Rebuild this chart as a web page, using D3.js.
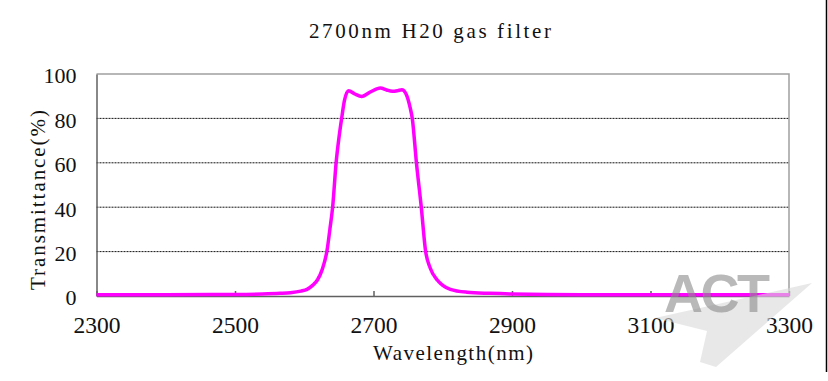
<!DOCTYPE html>
<meta charset="utf-8" />
<head>
  <!-- Load d3.js -->
  <script src="https://d3js.org/d3.v7.min.js"></script>
  <style>
    body {
      margin: 0;
      background: #ffffff;
    }
  </style>
</head>
<body>
  <div id="my_data"></div>
</body>
<script>
  // data
  var wavelength = [2300, 2400, 2500, 2540, 2565, 2580, 2595, 2604, 2612, 2619, 2626, 2633, 2637, 2641, 2646, 2650, 2654, 2658, 2664, 2673, 2683, 2696, 2710, 2719, 2727, 2735, 2741, 2747, 2753, 2756, 2762, 2769, 2775, 2782, 2792, 2800, 2811, 2835, 2868, 2900, 3000, 3100, 3300];
  var transmittance = [0.6, 0.6, 0.7, 0.9, 1.2, 1.5, 2.2, 3.0, 4.8, 7.2, 12, 20.7, 30, 40, 60, 71, 80, 88, 92.5, 91, 89.9, 92, 93.7, 92.8, 92.2, 92.5, 92.9, 91, 84.7, 80, 60, 40, 20.7, 12.5, 7.2, 4.8, 3, 1.7, 1.2, 0.9, 0.6, 0.6, 0.6];
  var xTicks = [2300, 2500, 2700, 2900, 3100, 3300];
  var yTicks = [0, 20, 40, 60, 80, 100];
  var gridTicks = [20, 40, 60, 80];

  var data = wavelength.map(function (w, i) {
    return { w: w, t: transmittance[i] };
  });

  var serif = "'Liberation Serif', 'DejaVu Serif', serif";

  // set the dimensions and margins of the graph
  var W = 828,
    H = 381;
  var margin = { top: 74, right: 39, bottom: 85, left: 96.5 },
    width = W - margin.left - margin.right,
    height = H - margin.top - margin.bottom;

  var root = d3
    .select("#my_data")
    .append("svg")
    .attr("width", W)
    .attr("height", H);

  root.append("rect").attr("width", W).attr("height", H).attr("fill", "#fff");

  var svg = root
    .append("g")
    .attr("transform", "translate(" + margin.left + "," + margin.top + ")");

  var x = d3.scaleLinear().domain([2300, 3300]).range([0, width]);
  var y = d3.scaleLinear().domain([0, 100]).range([height, 0]);

  // dotted grid lines
  svg
    .selectAll(".grid")
    .data(gridTicks)
    .enter()
    .append("line")
    .attr("x1", 0)
    .attr("x2", width)
    .attr("y1", function (d) { return y(d); })
    .attr("y2", function (d) { return y(d); })
    .attr("stroke", "#111")
    .attr("stroke-width", 1)
    .attr("stroke-dasharray", "2,1");

  // top and right border
  svg
    .append("path")
    .attr("d", "M0,0H" + width + "V" + height)
    .attr("fill", "none")
    .attr("stroke", "#a0a0a0")
    .attr("stroke-width", 1.5);

  // X axis, ticks point up
  var xAxis = svg
    .append("g")
    .attr("transform", "translate(0," + height + ")")
    .call(
      d3.axisBottom(x)
        .tickValues(xTicks)
        .tickFormat(d3.format("d"))
        .tickSizeInner(-5)
        .tickSizeOuter(0)
        .tickPadding(20)
    );
  xAxis.select(".domain").attr("stroke", "#606060").attr("stroke-width", 1.5);
  xAxis.selectAll(".tick line").attr("stroke", "#606060").attr("stroke-width", 1.5);
  xAxis
    .selectAll(".tick text")
    .style("font-family", serif)
    .style("font-size", "23.5px")
    .attr("fill", "#111");

  // Y axis
  var yAxis = svg
    .append("g")
    .call(d3.axisLeft(y).tickValues(yTicks).tickFormat(d3.format("d")).tickSize(0).tickPadding(20));
  yAxis.select(".domain").attr("stroke", "#606060").attr("stroke-width", 1.5);
  yAxis
    .selectAll(".tick text")
    .attr("dy", "0.4em")
    .style("font-family", serif)
    .style("font-size", "22px")
    .attr("fill", "#111");

  // watermark plane
  root
    .append("polygon")
    .attr("points", "655,318 812,283 716,367 700,362 707,331")
    .attr("fill", "#d8d8d8")
    .attr("opacity", 0.6);

  // the curve
  svg
    .append("path")
    .datum(data)
    .attr(
      "d",
      d3
        .line()
        .curve(d3.curveMonotoneX)
        .x(function (d) { return x(d.w); })
        .y(function (d) { return y(d.t); })
    )
    .attr("fill", "none")
    .attr("stroke", "#ff00ff")
    .attr("stroke-width", 3.5)
    .attr("stroke-linejoin", "round");

  // watermark text
  root
    .append("text")
    .attr("x", 664)
    .attr("y", 312)
    .style("font-family", "'Liberation Sans', Arial, sans-serif")
    .style("font-weight", "bold")
    .style("font-size", "54px")
    .attr("textLength", 106)
    .attr("fill", "#8c8c8c")
    .attr("opacity", 0.6)
    .text("ACT");

  // helper for the wide spaced labels
  function label(txt, len) {
    return root
      .append("text")
      .style("font-family", serif)
      .style("font-size", "21px")
      .attr("fill", "#111")
      .attr("text-anchor", "middle")
      .attr("textLength", len)
      .attr("lengthAdjust", "spacing")
      .text(txt);
  }

  // title
  label("2700nm H20 gas filter", 242).attr("x", 430).attr("y", 38);

  // X Axis Label
  label("Wavelength(nm)", 160).attr("x", 453).attr("y", 360);

  // Y Axis Label
  label("Transmittance(%)", 180).attr("transform", "translate(45,200) rotate(-90)");

  // frame edge on the right
  root
    .append("line")
    .attr("x1", 826.5)
    .attr("x2", 826.5)
    .attr("y1", 0)
    .attr("y2", 372)
    .attr("stroke", "#000")
    .attr("stroke-width", 1.5);
</script>
